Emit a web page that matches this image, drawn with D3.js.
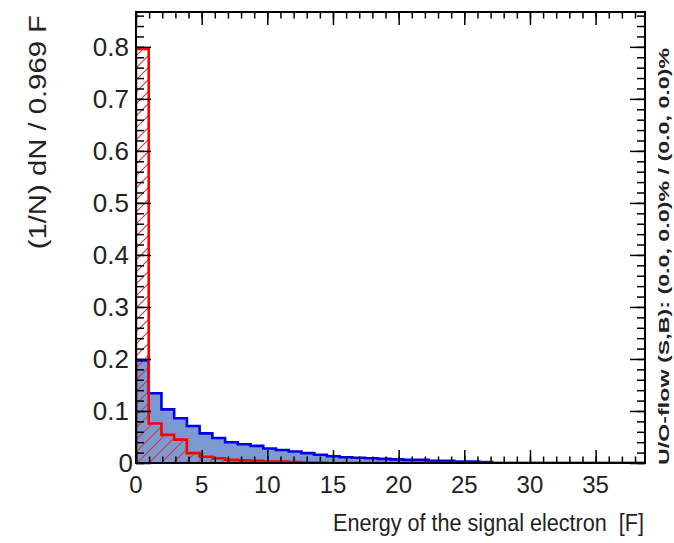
<!DOCTYPE html>
<html>
<head>
<meta charset="utf-8">
<script src="https://cdn.jsdelivr.net/npm/d3@7"></script>
<style>
  html, body { margin: 0; padding: 0; background: #ffffff; }
  svg { display: block; font-family: "Liberation Sans", Arial, Helvetica, sans-serif; }
  text { white-space: pre; }
</style>
</head>
<body>
<svg id="chart" width="674" height="543"></svg>
<script>
// Normalised energy spectra, 40 bins of width 0.969 F starting at 0
const binWidth = 0.969;
const nBins = 40;
const signalValues = [
  0.197, 0.134, 0.103, 0.086, 0.071, 0.057, 0.048, 0.040, 0.036, 0.033,
  0.028, 0.025, 0.022, 0.019, 0.016, 0.013, 0.011, 0.010, 0.009, 0.008,
  0.007, 0.006, 0.006, 0.004, 0.004, 0.003, 0.003, 0.002, 0, 0,
  0, 0, 0, 0, 0, 0, 0, 0, 0, 0
];
const backgroundValues = [
  0.796, 0.076, 0.054, 0.045, 0.019, 0.012, 0.009, 0.006, 0.005, 0.004,
  0.003, 0.003, 0.002, 0.001, 0.001, 0, 0, 0, 0, 0,
  0, 0, 0, 0, 0, 0, 0, 0, 0, 0,
  0, 0, 0, 0, 0, 0, 0, 0, 0, 0
];
const xTickLabels = [0, 5, 10, 15, 20, 25, 30, 35];
const yTickLabels = [0, 0.1, 0.2, 0.3, 0.4, 0.5, 0.6, 0.7, 0.8];
const yMax = 0.867;
const xTitle = "Energy of the signal electron  [F]";
const yTitle = "(1/N) dN / 0.969 F";
const flowText = "U/O-flow (S,B): (0.0, 0.0)% / (0.0, 0.0)%";

const frame = { left: 136, top: 12, right: 645, bottom: 463 };
const svg = d3.select("#chart");

const x = d3.scaleLinear().domain([0, nBins * binWidth]).range([frame.left, frame.right]);
const y = d3.scaleLinear().domain([0, yMax]).range([frame.bottom, frame.top]);

// hatch pattern for the background histogram
const defs = svg.append("defs");
const hatch = defs.append("pattern")
  .attr("id", "hatch")
  .attr("patternUnits", "userSpaceOnUse")
  .attr("width", 12).attr("height", 12);
hatch.append("path")
  .attr("d", "M0,12 L12,0 M-3,3 L3,-3 M9,15 L15,9")
  .attr("stroke", "#cc3b3b").attr("stroke-width", 1.1).attr("fill", "none");

const clip = defs.append("clipPath").attr("id", "plotclip");
clip.append("rect")
  .attr("x", frame.left).attr("y", frame.top)
  .attr("width", frame.right - frame.left).attr("height", frame.bottom - frame.top);

// step outline of a histogram (closed to the baseline at both ends)
function stepPoints(values) {
  const pts = [[0, 0]];
  values.forEach((v, i) => {
    pts.push([i * binWidth, v]);
    pts.push([(i + 1) * binWidth, v]);
  });
  pts.push([values.length * binWidth, 0]);
  return pts;
}
const line = d3.line().x(d => x(d[0])).y(d => y(d[1]));

const plot = svg.append("g").attr("clip-path", "url(#plotclip)");
const sigPts = stepPoints(signalValues);
const bkgPts = stepPoints(backgroundValues);

plot.append("path").attr("d", line(sigPts) + "Z").attr("fill", "#7d99d1").attr("stroke", "none");
plot.append("path").attr("d", line(bkgPts) + "Z").attr("fill", "url(#hatch)").attr("stroke", "none");
plot.append("path").attr("d", line(sigPts)).attr("fill", "none")
  .attr("stroke", "#0000ee").attr("stroke-width", 2.6);
plot.append("path").attr("d", line(bkgPts)).attr("fill", "none")
  .attr("stroke", "#ff0000").attr("stroke-width", 2.6);

// ticks on all four sides, pointing inward
const xMinor = x.ticks(40);
const yMinor = y.ticks(40);
const tickStyle = g => g.selectAll("line").attr("stroke", "#000").attr("stroke-width", 1.5);
function axisGroup(axis, tx, ty) {
  const g = svg.append("g").attr("transform", `translate(${tx},${ty})`).call(axis);
  g.select(".domain").remove();
  tickStyle(g);
  return g;
}
axisGroup(d3.axisBottom(x).tickValues(xMinor).tickSize(-6.5).tickFormat(""), 0, frame.bottom);
axisGroup(d3.axisBottom(x).tickValues(xTickLabels).tickSize(-13).tickFormat(""), 0, frame.bottom);
axisGroup(d3.axisTop(x).tickValues(xMinor).tickSize(-6.5).tickFormat(""), 0, frame.top);
axisGroup(d3.axisTop(x).tickValues(xTickLabels).tickSize(-13).tickFormat(""), 0, frame.top);
axisGroup(d3.axisLeft(y).tickValues(yMinor).tickSize(-8).tickFormat(""), frame.left, 0);
axisGroup(d3.axisLeft(y).tickValues(yTickLabels).tickSize(-15).tickFormat(""), frame.left, 0);
axisGroup(d3.axisRight(y).tickValues(yMinor).tickSize(-8).tickFormat(""), frame.right, 0);
axisGroup(d3.axisRight(y).tickValues(yTickLabels).tickSize(-15).tickFormat(""), frame.right, 0);

// frame
svg.append("rect")
  .attr("x", frame.left).attr("y", frame.top)
  .attr("width", frame.right - frame.left).attr("height", frame.bottom - frame.top)
  .attr("fill", "none").attr("stroke", "#000").attr("stroke-width", 2);

// tick labels
svg.append("g").selectAll("text").data(xTickLabels).join("text")
  .attr("x", d => x(d)).attr("y", frame.bottom + 30)
  .attr("text-anchor", "middle").attr("font-size", 24).attr("fill", "#222")
  .text(d => d3.format("d")(d));
svg.append("g").selectAll("text").data(yTickLabels).join("text")
  .attr("x", d => d === 0 ? frame.left - 3 : frame.left - 7).attr("y", d => y(d) + 9)
  .attr("text-anchor", "end").attr("font-size", 26).attr("fill", "#222")
  .text(d => d === 0 ? "0" : d3.format(".1f")(d));

// axis titles
svg.append("text")
  .attr("transform", `translate(${frame.right - 1},531) scale(0.9,1)`)
  .attr("text-anchor", "end").attr("font-size", 24).attr("fill", "#222")
  .text(xTitle);
svg.append("text")
  .attr("transform", `translate(46,15) rotate(-90) scale(1.22,1)`)
  .attr("text-anchor", "end").attr("font-size", 24).attr("fill", "#222")
  .text(yTitle);
svg.append("text")
  .attr("transform", `translate(669,465) rotate(-90) scale(1.5,1)`)
  .attr("text-anchor", "start").attr("font-size", 15.5).attr("font-weight", "bold").attr("fill", "#222")
  .text(flowText);
</script>
</body>
</html>
